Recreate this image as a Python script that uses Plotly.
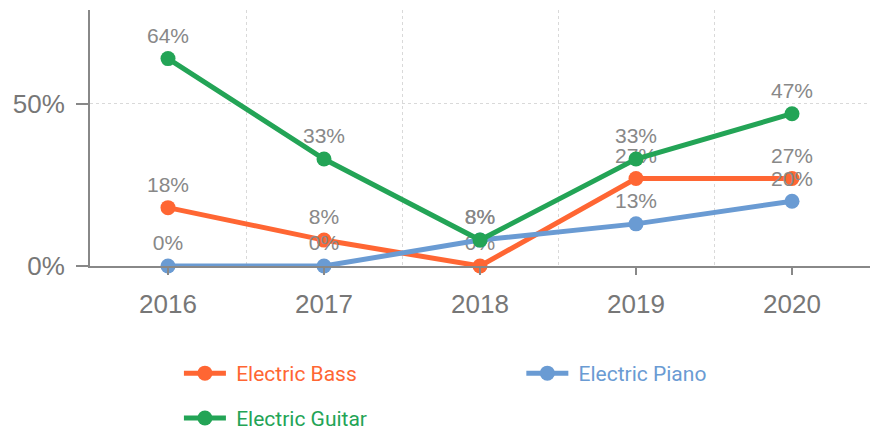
import plotly.graph_objects as go

years = [2016, 2017, 2018, 2019, 2020]
year_labels = ["2016", "2017", "2018", "2019", "2020"]
bass = [0.18, 0.08, 0.0, 0.27, 0.27]
piano = [0.0, 0.0, 0.08, 0.13, 0.20]
guitar = [0.64, 0.33, 0.08, 0.33, 0.47]

series = [
    ("Electric Bass", bass, "#FF6633", "legend"),
    ("Electric Piano", piano, "#6A9BD3", "legend3"),
    ("Electric Guitar", guitar, "#23A456", "legend2"),
]

FONT = "Liberation Sans, Arial, sans-serif"
LFONT = "Roboto, Inter, sans-serif"
fig = go.Figure()
for name, vals, col, lg in series:
    fig.add_trace(go.Scatter(
        x=years, y=vals, mode="lines+markers+text",
        name=f"<span style='color:{col}'>&nbsp;{name}</span>",
        legend=lg,
        line=dict(color=col, width=5),
        marker=dict(color=col, size=15),
        text=[f"{v*100:.0f}%" for v in vals],
        textposition="top center",
        textfont=dict(color="#888888", size=21, family=FONT),
        cliponaxis=False,
    ))

def leg(x, y):
    return dict(
        orientation="h", x=x, xanchor="left", y=y, yanchor="middle",
        font=dict(size=21, family=LFONT), itemwidth=42,
        bgcolor="rgba(0,0,0,0)",
    )

fig.update_layout(
    width=877, height=430,
    margin=dict(l=90, r=7, t=10, b=164, autoexpand=False),
    plot_bgcolor="white", paper_bgcolor="white",
    font=dict(family=FONT, color="#777777"),
    xaxis=dict(
        range=[2015.5, 2020.5], tickvals=years, ticktext=year_labels,
        showgrid=False, showline=True, linecolor="#888888", linewidth=2,
        ticks="outside", ticklen=7, tickcolor="#888888", tickwidth=1.5,
        tickfont=dict(size=26, color="#777777"), ticklabelstandoff=7,
        zeroline=False, automargin=False,
        minor=dict(tick0=2015.5, dtick=1, showgrid=True, gridcolor="#d9d9d9",
                   griddash="3px,3px", gridwidth=1, ticks=""),
    ),
    yaxis=dict(
        range=[0, 0.79], tickvals=[0, 0.5], tickformat=".0%",
        showgrid=True, gridcolor="#d9d9d9", griddash="3px,3px", gridwidth=1,
        showline=True, linecolor="#888888", linewidth=2,
        ticks="outside", ticklen=12, tickcolor="#888888", tickwidth=1.5,
        tickfont=dict(size=26, color="#777777"), ticklabelstandoff=6,
        zeroline=False, automargin=False,
    ),
    legend=leg(0.114, -0.42),
    legend3=leg(0.553, -0.42),
    legend2=leg(0.114, -0.595),
    showlegend=True,
)

fig.write_html("out.html", config={"displayModeBar": False},
               post_script="document.body.style.margin='0px';")
